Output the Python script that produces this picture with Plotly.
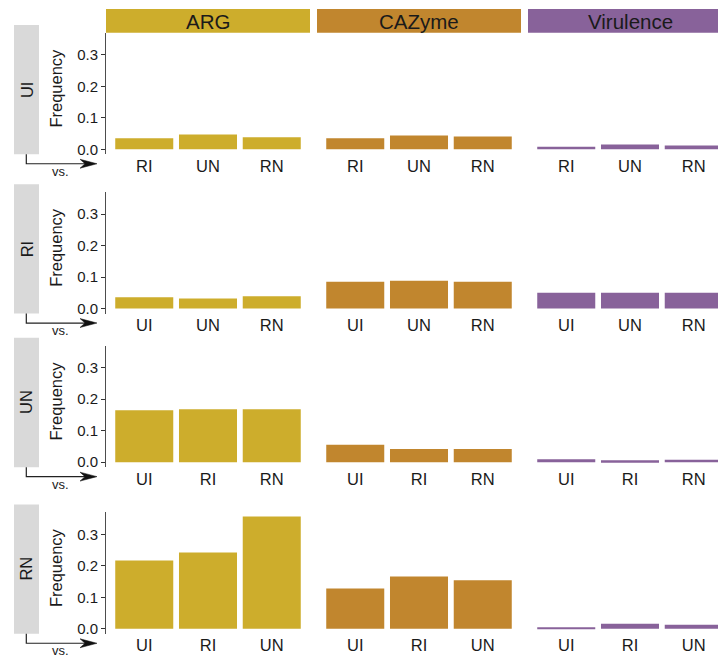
import plotly.graph_objects as go

# ---------------- data ----------------
row_names = ["UI", "RI", "UN", "RN"]
groups = ["ARG", "CAZyme", "Virulence"]
group_colors = ["#CDAD2C", "#C1862E", "#88629A"]

comparisons = [
    ["RI", "UN", "RN"],
    ["UI", "UN", "RN"],
    ["UI", "RI", "RN"],
    ["UI", "RI", "UN"],
]

arg_freq = [
    [0.035, 0.047, 0.038],
    [0.036, 0.032, 0.039],
    [0.165, 0.168, 0.168],
    [0.217, 0.242, 0.356],
]
cazyme_freq = [
    [0.035, 0.044, 0.041],
    [0.085, 0.088, 0.085],
    [0.055, 0.042, 0.042],
    [0.128, 0.166, 0.154],
]
virulence_freq = [
    [0.008, 0.015, 0.012],
    [0.050, 0.050, 0.050],
    [0.009, 0.006, 0.008],
    [0.003, 0.016, 0.013],
]
group_values = [arg_freq, cazyme_freq, virulence_freq]

y_tickvals = [0.0, 0.1, 0.2, 0.3]
y_ticktext = ["0.0", "0.1", "0.2", "0.3"]

# ---------------- layout geometry (pixels in the page) ----------------
W, H = 718, 661
PX_PER_UNIT = 316.7          # pixels per 1.0 frequency
zero_px = [150.0, 310.0, 464.3, 631.7]   # pixel row of y=0 per row
col_px = [(106, 310), (317, 521), (528, 718)]
col_full_right = [310, 521, 732]
cat_step = 63.75


def fx(px):
    return px / W


def fy(py):
    return 1 - py / H


fig = go.Figure()
shapes = []
annotations = []

TEXT = "#1a1a1a"
FONT = "Liberation Sans, Arial, sans-serif"

y_lo = -5 / PX_PER_UNIT
y_hi = 117 / PX_PER_UNIT

for r in range(4):
    z = zero_px[r]
    for c in range(3):
        idx = r * 3 + c + 1
        xa = "x" if idx == 1 else f"x{idx}"
        ya = "y" if idx == 1 else f"y{idx}"
        fig.add_trace(go.Bar(
            x=comparisons[r], y=group_values[c][r],
            marker=dict(color=group_colors[c], line=dict(width=0)),
            width=0.91, xaxis=xa, yaxis=ya, showlegend=False,
            hoverinfo="x+y",
        ))
        x0, x1 = col_px[c]
        right_u = 2.6 - (col_full_right[c] - x1) / cat_step
        xkey = "xaxis" if idx == 1 else f"xaxis{idx}"
        ykey = "yaxis" if idx == 1 else f"yaxis{idx}"
        fig.layout[xkey] = dict(
            domain=[fx(x0), min(fx(x1), 1.0)], anchor=ya, type="category",
            range=[-0.6, right_u], showline=False, showgrid=False,
            zeroline=False, ticks="", fixedrange=True,
            tickfont=dict(size=16.5, color=TEXT, family=FONT),
        )
        ycfg = dict(
            domain=[fy(z + 5), fy(z - 117)], anchor=xa,
            range=[y_lo, y_hi], showgrid=False, zeroline=False,
            fixedrange=True,
        )
        if c == 0:
            ycfg.update(showline=True, linecolor="#4d4d4d", linewidth=1,
                        ticks="outside", ticklen=4, tickcolor="#333333",
                        tickwidth=1, tickvals=y_tickvals,
                        ticktext=y_ticktext,
                        tickfont=dict(size=15, color=TEXT, family=FONT))
        else:
            ycfg.update(showline=False, showticklabels=False, ticks="")
        fig.layout[ykey] = ycfg

    # row label box
    box_top, box_bot = z - 125, z + 5
    shapes.append(dict(type="rect", xref="paper", yref="paper",
                       x0=fx(14), x1=fx(39), y0=fy(box_bot), y1=fy(box_top),
                       fillcolor="#D9D9D9", line=dict(width=0), layer="below"))
    annotations.append(dict(text=row_names[r], xref="paper", yref="paper",
                            x=fx(26.5), y=fy((box_top + box_bot) / 2),
                            showarrow=False, textangle=-90,
                            font=dict(size=16.5, color=TEXT, family=FONT),
                            xanchor="center", yanchor="middle"))
    # Frequency label
    annotations.append(dict(text="Frequency", xref="paper", yref="paper",
                            x=fx(56), y=fy(z - 61), showarrow=False,
                            textangle=-90,
                            font=dict(size=16.5, color=TEXT, family=FONT),
                            xanchor="center", yanchor="middle"))
    # vs. arrow
    ay = box_bot + 9.5
    shapes.append(dict(type="path", xref="paper", yref="paper",
                       path=f"M {fx(26.3)},{fy(box_bot)} L {fx(26.3)},{fy(ay)} L {fx(86)},{fy(ay)}",
                       line=dict(color="#222222", width=1.2)))
    shapes.append(dict(type="path", xref="paper", yref="paper",
                       path=(f"M {fx(97)},{fy(ay)} L {fx(80)},{fy(ay - 4.5)} "
                             f"L {fx(85)},{fy(ay)} L {fx(80)},{fy(ay + 4.5)} Z"),
                       fillcolor="#111111", line=dict(color="#111111", width=0.5)))
    annotations.append(dict(text="vs.", xref="paper", yref="paper",
                            x=fx(61), y=fy(box_bot + 17), showarrow=False,
                            font=dict(size=13, color=TEXT, family=FONT),
                            xanchor="center", yanchor="middle"))

# column headers
header_centers = [208, 419, 630]
for c in range(3):
    x0, x1 = col_px[c]
    shapes.append(dict(type="rect", xref="paper", yref="paper",
                       x0=fx(x0), x1=min(fx(x1), 1.0), y0=fy(33), y1=fy(9),
                       fillcolor=group_colors[c], line=dict(width=0)))
    annotations.append(dict(text=groups[c], xref="paper", yref="paper",
                            x=fx(header_centers[c]), y=fy(21.5), showarrow=False,
                            font=dict(size=20.5, color=TEXT, family=FONT),
                            xanchor="center", yanchor="middle"))

fig.update_layout(
    width=W, height=H, autosize=False,
    margin=dict(l=0, r=0, t=0, b=0),
    paper_bgcolor="white", plot_bgcolor="white",
    shapes=shapes, annotations=annotations,
    font=dict(family=FONT, color=TEXT),
)

fig.write_html(
    "out.html",
    config={"displayModeBar": False},
    post_script="document.body.style.margin='0';document.body.style.overflow='hidden';",
)
